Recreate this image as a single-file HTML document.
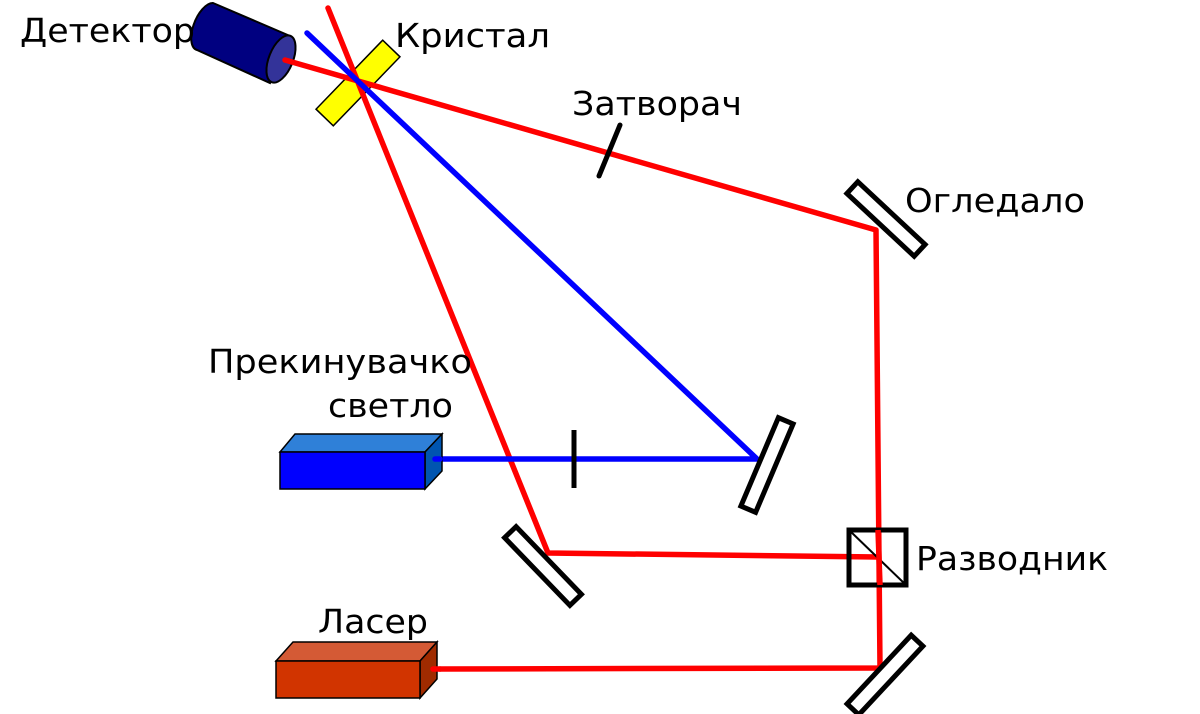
<!DOCTYPE html>
<html><head><meta charset="utf-8"><style>
html,body{margin:0;padding:0;background:#fff;}
svg{display:block}
text{font-family:"DejaVu Sans","Liberation Sans",sans-serif;font-size:33px;fill:#000}
</style></head><body>
<svg width="1200" height="714" viewBox="0 0 1200 714" xmlns="http://www.w3.org/2000/svg">
<!-- detector -->
<path d="M213,3 L290,36 L270,83 L197,50 A12,25 22 0 1 213,3 Z" fill="#000080" stroke="#000" stroke-width="2"/>
<ellipse cx="281" cy="59" rx="12" ry="25" transform="rotate(22 281 59)" fill="#333399" stroke="#000" stroke-width="2"/>
<!-- crystal -->
<rect x="310" y="71" width="96" height="24" transform="rotate(-46 358 83)" fill="#ffff00" stroke="#000" stroke-width="1.5"/>
<!-- beams -->
<g fill="none" stroke-linecap="round" stroke-linejoin="round" stroke-width="5.5">
<polyline points="285,60 876,230 880,668 440,669" stroke="#ff0000"/>
<polyline points="328,8 548,553 878,557" stroke="#ff0000"/>
<polyline points="307,33 757,459 440,459" stroke="#0000ff"/>
</g>
<!-- shutter & chopper -->
<line x1="620" y1="125" x2="599" y2="176" stroke="#000" stroke-width="5" stroke-linecap="round"/>
<line x1="574" y1="430" x2="574" y2="488" stroke="#000" stroke-width="5"/>
<!-- mirrors -->
<g fill="#fff" stroke="#000" stroke-width="5">
<rect x="840" y="211" width="92" height="16" transform="rotate(43 886 219)"/>
<rect x="719" y="457" width="96" height="16" transform="rotate(-67 767 465)"/>
<rect x="496" y="558" width="94" height="16" transform="rotate(46 543 566)"/>
<rect x="838" y="667" width="94" height="16" transform="rotate(-47 885 675)"/>
<rect x="849" y="530" width="57" height="55" fill="none"/>
</g>
<line x1="849" y1="530" x2="906" y2="585" stroke="#000" stroke-width="2"/>
<line x1="878" y1="530" x2="880" y2="585" stroke="#ff0000" stroke-width="5.5"/>
<!-- blue source -->
<polygon points="280,452 295,434 442,434 425,452" fill="#2f80d8" stroke="#000" stroke-width="1.5"/>
<polygon points="425,452 442,434 442,471 425,489" fill="#0055b0" stroke="#000" stroke-width="1.5"/>
<rect x="280" y="452" width="145" height="37" fill="#0000ff" stroke="#000" stroke-width="1.5"/>
<line x1="435" y1="459" x2="440" y2="459" stroke="#0000ff" stroke-width="5.5" stroke-linecap="round"/>
<!-- laser -->
<polygon points="276,661 293,642 437,642 420,661" fill="#d45a35" stroke="#000" stroke-width="1.5"/>
<polygon points="420,661 437,642 437,679 420,698" fill="#a02b00" stroke="#000" stroke-width="1.5"/>
<rect x="276" y="661" width="144" height="37" fill="#d13400" stroke="#000" stroke-width="1.5"/>
<line x1="433" y1="669" x2="440" y2="669" stroke="#ff0000" stroke-width="5.5" stroke-linecap="round"/>
<!-- labels -->
<text x="20" y="42" textLength="175" lengthAdjust="spacingAndGlyphs">Детектор</text>
<text x="395" y="47" textLength="155" lengthAdjust="spacingAndGlyphs">Кристал</text>
<text x="572" y="115" textLength="170" lengthAdjust="spacingAndGlyphs">Затворач</text>
<text x="905" y="212" textLength="180" lengthAdjust="spacingAndGlyphs">Огледало</text>
<text x="208" y="373" textLength="264" lengthAdjust="spacingAndGlyphs">Прекинувачко</text>
<text x="328" y="417" textLength="125" lengthAdjust="spacingAndGlyphs">светло</text>
<text x="916" y="570" textLength="192" lengthAdjust="spacingAndGlyphs">Разводник</text>
<text x="318" y="633" textLength="110" lengthAdjust="spacingAndGlyphs">Ласер</text>
</svg>
</body></html>
